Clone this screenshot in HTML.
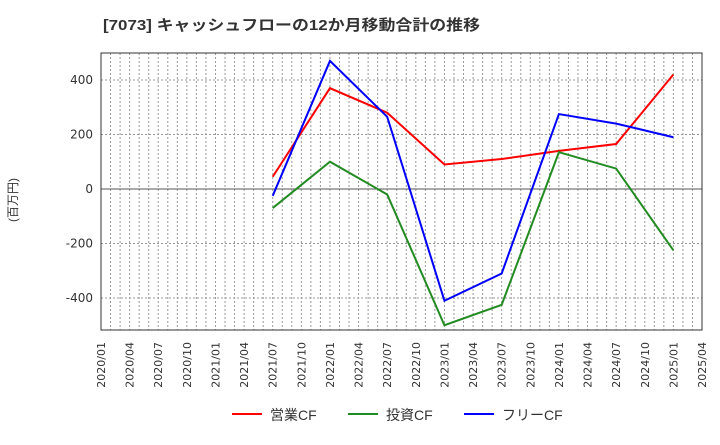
<!DOCTYPE html>
<html><head><meta charset="utf-8"><style>
body{margin:0;background:#fff;font-family:"Liberation Sans","Noto Sans CJK JP",sans-serif;}
</style></head><body>
<svg id="c" width="720" height="440" xmlns="http://www.w3.org/2000/svg" font-family="'Liberation Sans','Noto Sans CJK JP',sans-serif">
<text x="103" y="30" font-size="15" font-weight="bold" fill="#333" textLength="377" lengthAdjust="spacingAndGlyphs">[7073]  キャッシュフローの12か月移動合計の推移</text>
<text x="17" y="200" font-size="12" fill="#333" transform="rotate(-90 17 200)" text-anchor="middle">(百万円)</text>
<g id="grid"></g><g id="axes"></g><g id="series"></g><g id="legend"></g>
</svg>
<script>
const xLabels=["2020/01","2020/04","2020/07","2020/10","2021/01","2021/04","2021/07","2021/10","2022/01","2022/04","2022/07","2022/10","2023/01","2023/04","2023/07","2023/10","2024/01","2024/04","2024/07","2024/10","2025/01","2025/04"];
const yTicks=[-400,-200,0,200,400];
const pointIdx=[6,8,10,12,14,16,18,20];
const opCF=[45,370,280,90,110,140,165,420];
const invCF=[-70,100,-20,-500,-425,135,75,-225];
const freeCF=[-25,470,265,-410,-310,275,240,190];
const NS="http://www.w3.org/2000/svg";
const L=101,R=702,T=53,B=330;
const xq=i=>L+(R-L)*i/21;
const y=v=>189-v*0.2725;
function mk(t,a,p){const e=document.createElementNS(NS,t);for(const k in a)e.setAttribute(k,a[k]);document.getElementById(p).appendChild(e);return e;}
for(let m=1;m<63;m++){const x=L+(R-L)*m/63;
const g=mk('line',{x1:x,x2:x,y1:T,y2:B,stroke:'#999','stroke-dasharray':'2,2','stroke-width':1},'grid');

}
yTicks.forEach(v=>{const g=mk('line',{x1:L,x2:R,y1:y(v),y2:y(v),stroke:v===0?'#555':'#999','stroke-dasharray':v===0?'none':'2,2','stroke-width':1},'grid');


const t=mk('text',{x:L-8,y:y(v)+4,'font-size':12,'text-anchor':'end',fill:'#333','font-family':"'DejaVu Sans',sans-serif"},'axes');t.textContent=v;

});
const fr=mk('rect',{x:L,y:T,width:R-L,height:B-T,fill:'none',stroke:'#333','stroke-width':1},'axes');


xLabels.forEach((s,i)=>{const x=xq(i);const t=mk('text',{x:x+4,y:B+12,'font-size':11,'text-anchor':'end',fill:'#333','font-family':"'DejaVu Sans',sans-serif",transform:`rotate(-90 ${x+4} ${B+12})`},'axes');t.textContent=s;

});
const series=[[opCF,'#ff0000','op-cf-line'],[invCF,'#228b22','inv-cf-line'],[freeCF,'#0000ff','free-cf-line']];
series.forEach(([d,c,n])=>{const p=mk('polyline',{points:d.map((v,i)=>xq(pointIdx[i])+','+y(v)).join(' '),fill:'none',stroke:c,'stroke-width':2},'series');

});
const leg=[['営業CF','#ff0000',232],['投資CF','#228b22',348],['フリーCF','#0000ff',464]];
leg.forEach(([s,c,x])=>{const l=mk('line',{x1:x,x2:x+30,y1:414,y2:414,stroke:c,'stroke-width':2},'legend');


const t=mk('text',{x:x+38,y:420,'font-size':14,fill:'#333'},'legend');t.textContent=s;

});
</script>
</body></html>
